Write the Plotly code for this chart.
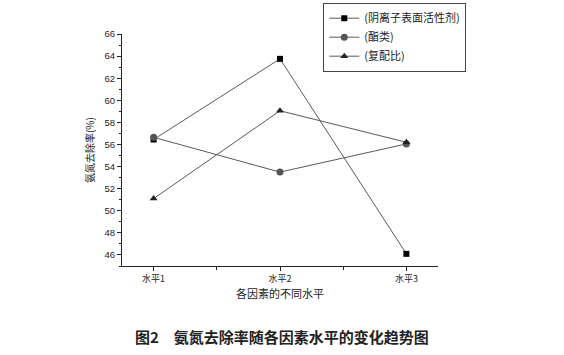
import plotly.graph_objects as go

levels = [1, 2, 3]
level_labels = ["水平1", "水平2", "水平3"]
anionic = [56.45, 63.75, 46.1]
ester = [56.65, 53.5, 56.05]
ratio = [51.1, 59.05, 56.2]
names = ["(阴离子表面活性剂)", "(酯类)", "(复配比)"]

fig = go.Figure()
styles = [("square", "#000000", 6), ("circle", "#555555", 7), ("triangle-up", "#222222", 7)]
for ys, nm, (sym, col, sz) in zip([anionic, ester, ratio], names, styles):
    fig.add_trace(go.Scatter(
        x=levels, y=ys, name=nm, mode="lines+markers",
        line=dict(color="#5a5a5a", width=1),
        marker=dict(symbol=sym, color=col, size=sz),
    ))

cjk = "Noto Sans CJK SC"
fig.update_layout(
    width=564, height=355,
    margin=dict(l=122, r=126, t=34, b=89, autoexpand=False),
    plot_bgcolor="white", paper_bgcolor="white",
    showlegend=True,
    legend=dict(
        x=0.637, y=1.135, xanchor="left", yanchor="top",
        bordercolor="#444", borderwidth=1, bgcolor="white",
        font=dict(family=cjk, size=11, color="#222"),
        tracegroupgap=0, itemwidth=30,
    ),
    xaxis=dict(
        range=[0.75, 3.25], tickvals=levels, ticktext=level_labels,
        showgrid=False, zeroline=False, showline=True, linecolor="#222", linewidth=1,
        ticks="outside", ticklen=4, tickcolor="#222",
        tickfont=dict(family=cjk, size=9, color="#222"),
        minor=dict(dtick=0.5, ticks="outside", ticklen=3, tickcolor="#222"),
        title=dict(text="各因素的不同水平", font=dict(family=cjk, size=11, color="#222"), standoff=6),
    ),
    yaxis=dict(
        range=[45, 66], tickvals=list(range(46, 67, 2)),
        showgrid=False, zeroline=False, showline=True, linecolor="#222", linewidth=1,
        ticks="outside", ticklen=4, tickcolor="#222",
        tickfont=dict(family="Liberation Sans", size=9.5, color="#222"),
        minor=dict(tick0=45, dtick=1, ticks="outside", ticklen=2, tickcolor="#222"),
        title=dict(text="氨氮去除率(%)", font=dict(family=cjk, size=10, color="#222"), standoff=8),
    ),
    annotations=[dict(
        text="<b>图2　氨氮去除率随各因素水平的变化趋势图</b>",
        xref="paper", yref="paper", x=(282 - 122) / 316, y=-0.25, xanchor="center", yanchor="top",
        showarrow=False, font=dict(family=cjk, size=15, color="#222"),
    )],
)
fig.write_html("out.html")
